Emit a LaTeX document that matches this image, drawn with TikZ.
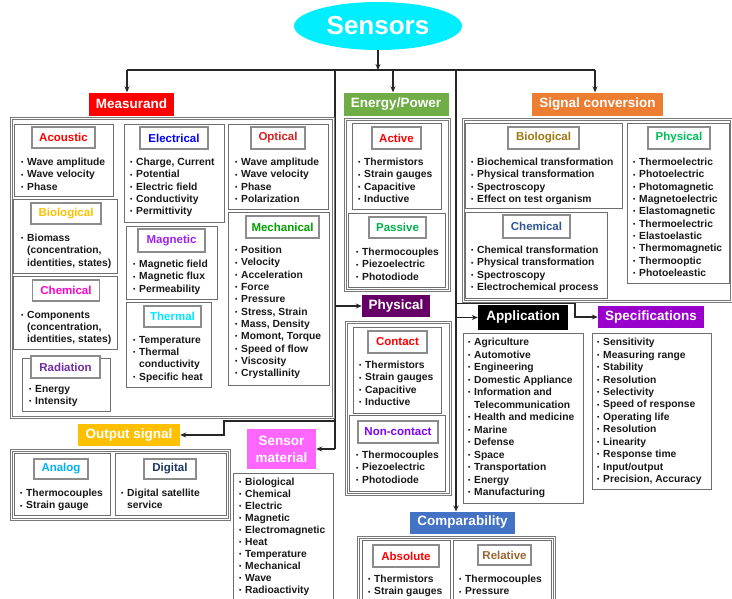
\documentclass[tikz,border=0pt]{standalone}
\usepackage{fontspec}
\setmainfont{Liberation Sans}
\usepackage{graphicx}
\usetikzlibrary{shapes.geometric,arrows.meta}
\newcommand{\bl}{\makebox[6pt][l]{\raisebox{0.9pt}{\scalebox{0.65}{•}}}}
\newcommand{\ind}{\hspace*{6pt}}
\definecolor{sensorcyan}{RGB}{0,238,255}
\definecolor{measred}{RGB}{255,0,0}
\definecolor{energygreen}{RGB}{112,173,71}
\definecolor{signalorange}{RGB}{237,125,49}
\definecolor{physpurple}{RGB}{102,0,102}
\definecolor{specpurple}{RGB}{153,0,204}
\definecolor{outyellow}{RGB}{255,192,0}
\definecolor{matpink}{RGB}{255,102,255}
\definecolor{compblue}{RGB}{68,114,196}
\definecolor{boxgray}{RGB}{110,110,110}
\definecolor{framegray}{RGB}{120,120,120}
\definecolor{lblgray}{RGB}{140,140,140}
\definecolor{cAcoustic}{RGB}{255,0,0}
\definecolor{cBio}{RGB}{255,192,0}
\definecolor{cChem}{RGB}{255,0,204}
\definecolor{cRad}{RGB}{112,48,160}
\definecolor{cElec}{RGB}{0,0,255}
\definecolor{cMag}{RGB}{160,32,240}
\definecolor{cTherm}{RGB}{0,230,255}
\definecolor{cOpt}{RGB}{220,30,30}
\definecolor{cMech}{RGB}{0,160,0}
\definecolor{cPass}{RGB}{0,176,80}
\definecolor{cSBio}{RGB}{160,120,20}
\definecolor{cSChem}{RGB}{47,85,151}
\definecolor{cSPhys}{RGB}{0,190,90}
\definecolor{cNon}{RGB}{127,0,255}
\definecolor{cAna}{RGB}{0,176,240}
\definecolor{cDig}{RGB}{31,56,100}
\definecolor{cRel}{RGB}{153,102,51}
\definecolor{txt}{RGB}{25,25,25}
\begin{document}
\begin{tikzpicture}[x=1pt,y=-1pt,
  box/.style={draw=boxgray, line width=0.9pt, inner sep=0pt, anchor=north west},
  frame/.style={draw=framegray, double=white, double distance=1.2pt, line width=0.7pt, inner sep=0pt, anchor=north west},
  lbl/.style={draw=lblgray, line width=1.1pt, fill=white, inner sep=0pt, font=\fontsize{11.5}{12}\selectfont\bfseries},
  hdr/.style={inner sep=0pt, text=white, font=\fontsize{13.5}{15}\selectfont\bfseries},
  lst/.style={anchor=north west, inner sep=0pt, align=left, text=txt, font=\fontsize{10.3}{12.3}\selectfont\bfseries},
  conn/.style={draw=black!85, line width=1.3pt},
  arr/.style={conn, -{Stealth[length=6pt,width=5pt]}}
]
\useasboundingbox (0,0) rectangle (732,598);
\clip (0,0) rectangle (732,598);
\fill[white] (0,0) rectangle (732,598);

% ---------- title ----------
\node[ellipse, fill=sensorcyan, minimum width=168pt, minimum height=48pt, inner sep=0pt,
  text=white, font=\fontsize{26}{28}\selectfont\bfseries] (sensors) at (378,26) {Sensors};

% ---------- headers ----------
\node[hdr, fill=measred, minimum width=85pt, minimum height=23pt] (meas) at (131.5,104) {Measurand};
\node[hdr, fill=energygreen, minimum width=105pt, minimum height=23pt] (energy) at (396,104) {Energy/Power};
\node[hdr, fill=signalorange, minimum width=131pt, minimum height=23pt] (signal) at (597.5,104) {Signal conversion};
\node[hdr, fill=physpurple, minimum width=68pt, minimum height=22pt] (phys) at (396,306) {Physical};
\node[hdr, fill=black, minimum width=90pt, minimum height=25pt] (app) at (523,317.5) {Application};
\node[hdr, fill=specpurple, minimum width=106pt, minimum height=22pt] (spec) at (651,317) {Specifications};
\node[hdr, fill=outyellow, minimum width=102pt, minimum height=22pt] (out) at (129,435) {Output signal};
\node[hdr, fill=matpink, minimum width=69pt, minimum height=40pt, align=center, font=\fontsize{13.5}{17}\selectfont\bfseries] (mat) at (281.5,449) {Sensor\\material};
\node[hdr, fill=compblue, minimum width=105pt, minimum height=22pt] (comp) at (462.5,522.5) {Comparability};

% ---------- connectors ----------
\coordinate (jc) at (378,70);
\coordinate (jl) at (127,70);
\coordinate (je) at (393,70);
\coordinate (jr) at (595,70);
\coordinate (ta) at (335,70);
\coordinate (tb) at (456,70);
\coordinate (taphys) at (335,306);
\coordinate (taout) at (335,421);
\coordinate (bendout) at (224,421);
\coordinate (bendout2) at (224,435);
\coordinate (tamat) at (335,449);
\coordinate (tbapp) at (456,317.5);
\coordinate (tbspec) at (456,303.5);
\coordinate (bendspec) at (575,303.5);
\coordinate (bendspec2) at (575,317);
\coordinate (tbcomp) at (456,511.5);

\draw[arr] (sensors.south) -- (jc);
\draw[conn] (jl) -- (jr);
\draw[arr] (jl) -- (jl |- meas.north);
\draw[arr] (je) -- (je |- energy.north);
\draw[arr] (jr) -- (jr |- signal.north);
\draw[conn] (ta) -- (tamat);
\draw[arr] (taphys) -- (phys.west);
\draw[arr] (taout) -- (bendout) -- (bendout2) -- (out.east);
\draw[arr] (tamat) -- (mat.east);
\draw[arr] (tb) -- (tbcomp);
\draw[arr] (tbapp) -- (app.west);
\draw[arr] (tbspec) -- (bendspec) -- (bendspec2) -- (spec.west);

% ---------- Measurand ----------
\node[frame, minimum width=322pt, minimum height=299pt] (measframe) at (11,118) {};
\node[box, minimum width=99pt, minimum height=72pt] (acbox) at (14,124) {};
\node[box, minimum width=104pt, minimum height=74pt] (biobox) at (13,199) {};
\node[box, minimum width=104pt, minimum height=73pt] (chembox) at (13,276) {};
\node[box, minimum width=88pt, minimum height=53pt] (radbox) at (22,358) {};
\node[box, minimum width=100pt, minimum height=98pt] (elecbox) at (124,124) {};
\node[box, minimum width=91pt, minimum height=73pt] (magbox) at (126,226) {};
\node[box, minimum width=85pt, minimum height=85pt] (thermbox) at (126,302) {};
\node[box, minimum width=100pt, minimum height=85pt] (optbox) at (228,124) {};
\node[box, minimum width=101pt, minimum height=173pt] (mechbox) at (228,212) {};

\node[lbl, text=cAcoustic, minimum width=63pt, minimum height=21pt] (aclbl) at (63.5,137.5) {Acoustic};
\node[lbl, text=cBio, minimum width=70pt, minimum height=21pt] (biolbl) at (66,213.5) {Biological};
\node[lbl, text=cChem, minimum width=67pt, minimum height=21pt] (chemlbl) at (66,290.5) {Chemical};
\node[lbl, text=cRad, minimum width=69pt, minimum height=22pt] (radlbl) at (65.5,367) {Radiation};
\node[lbl, text=cElec, minimum width=68pt, minimum height=22pt] (eleclbl) at (174,138) {Electrical};
\node[lbl, text=cMag, minimum width=67pt, minimum height=23pt] (maglbl) at (171.5,240.5) {Magnetic};
\node[lbl, text=cTherm, minimum width=57pt, minimum height=21pt] (thermlbl) at (172.5,316.5) {Thermal};
\node[lbl, text=cOpt, minimum width=54pt, minimum height=22pt] (optlbl) at (278,138) {Optical};
\node[lbl, text=cMech, minimum width=73pt, minimum height=22pt] (mechlbl) at (282.5,227) {Mechanical};

\node[lst] (aclst) at (21,158) {\bl Wave amplitude\\\bl Wave velocity\\\bl Phase};
\node[lst] (biolst) at (21,234) {\bl Biomass\\\ind(concentration,\\\ind identities, states)};
\node[lst] (chemlst) at (21,311) {\bl Components\\\ind(concentration,\\\ind identities, states)};
\node[lst] (radlst) at (29,385) {\bl Energy\\\bl Intensity};
\node[lst] (eleclst) at (130,158) {\bl Charge, Current\\\bl Potential\\\bl Electric field\\\bl Conductivity\\\bl Permittivity};
\node[lst] (maglst) at (133,260) {\bl Magnetic field\\\bl Magnetic flux\\\bl Permeability};
\node[lst] (thermlst) at (133,336) {\bl Temperature\\\bl Thermal\\\ind conductivity\\\bl Specific heat};
\node[lst] (optlst) at (235,158) {\bl Wave amplitude\\\bl Wave velocity\\\bl Phase\\\bl Polarization};
\node[lst] (mechlst) at (235,246) {\bl Position\\\bl Velocity\\\bl Acceleration\\\bl Force\\\bl Pressure\\\bl Stress, Strain\\\bl Mass, Density\\\bl Momont, Torque\\\bl Speed of flow\\\bl Viscosity\\\bl Crystallinity};

% ---------- Energy/Power ----------
\node[frame, minimum width=104pt, minimum height=171pt] (enframe) at (345,119) {};
\node[box, minimum width=89pt, minimum height=86pt] (actbox) at (352,123) {};
\node[box, minimum width=97pt, minimum height=74pt] (passbox) at (348,213) {};
\node[lbl, text=cAcoustic, minimum width=49pt, minimum height=22pt] (actlbl) at (396.5,138) {Active};
\node[lbl, text=cPass, minimum width=57pt, minimum height=21pt] (passlbl) at (397.5,227.5) {Passive};
\node[lst] (actlst) at (358,158) {\bl Thermistors\\\bl Strain gauges\\\bl Capacitive\\\bl Inductive};
\node[lst] (passlst) at (356,248) {\bl Thermocouples\\\bl Piezoelectric\\\bl Photodiode};

% ---------- Signal conversion ----------
\node[frame, minimum width=268pt, minimum height=182pt] (sigframe) at (463,119) {};
\node[box, minimum width=157pt, minimum height=85pt] (sbiobox) at (465,123) {};
\node[box, minimum width=142pt, minimum height=86pt] (schembox) at (465,212) {};
\node[box, minimum width=102pt, minimum height=160pt] (sphysbox) at (627,123) {};
\node[lbl, text=cSBio, minimum width=71pt, minimum height=22pt] (sbiolbl) at (543.5,138) {Biological};
\node[lbl, text=cSChem, minimum width=67pt, minimum height=23pt] (schemlbl) at (536.5,226.5) {Chemical};
\node[lbl, text=cSPhys, minimum width=62pt, minimum height=22pt] (sphyslbl) at (679,138) {Physical};
\node[lst] (sbiolst) at (471,158) {\bl Biochemical transformation\\\bl Physical transformation\\\bl Spectroscopy\\\bl Effect on test organism};
\node[lst] (schemlst) at (471,246) {\bl Chemical transformation\\\bl Physical transformation\\\bl Spectroscopy\\\bl Electrochemical process};
\node[lst] (sphyslst) at (633,158) {\bl Thermoelectric\\\bl Photoelectric\\\bl Photomagnetic\\\bl Magnetoelectric\\\bl Elastomagnetic\\\bl Thermoelectric\\\bl Elastoelastic\\\bl Thermomagnetic\\\bl Thermooptic\\\bl Photoeleastic};

% ---------- Physical ----------
\node[frame, minimum width=104pt, minimum height=172pt] (phframe) at (346,322) {};
\node[box, minimum width=88pt, minimum height=86pt] (contbox) at (353,327) {};
\node[box, minimum width=96pt, minimum height=76pt] (noncbox) at (349,415) {};
\node[lbl, text=cAcoustic, minimum width=59pt, minimum height=22pt] (contlbl) at (397.5,342) {Contact};
\node[lbl, text=cNon, minimum width=80pt, minimum height=22pt] (nonclbl) at (398,432) {Non-contact};
\node[lst] (contlst) at (359,361) {\bl Thermistors\\\bl Strain gauges\\\bl Capacitive\\\bl Inductive};
\node[lst] (nonclst) at (356,451) {\bl Thermocouples\\\bl Piezoelectric\\\bl Photodiode};

% ---------- Application ----------
\node[box, minimum width=120pt, minimum height=170pt] (appbox) at (463,333) {};
\node[lst, font=\fontsize{10.3}{12.5}\selectfont\bfseries] (applst) at (468,338) {\bl Agriculture\\\bl Automotive\\\bl Engineering\\\bl Domestic Appliance\\\bl Information and\\\ind Telecommunication\\\bl Health and medicine\\\bl Marine\\\bl Defense\\\bl Space\\\bl Transportation\\\bl Energy\\\bl Manufacturing};

% ---------- Specifications ----------
\node[box, minimum width=119pt, minimum height=156pt] (specbox) at (592,333) {};
\node[lst, font=\fontsize{10.3}{12.45}\selectfont\bfseries] (speclst) at (597,338) {\bl Sensitivity\\\bl Measuring range\\\bl Stability\\\bl Resolution\\\bl Selectivity\\\bl Speed of response\\\bl Operating life\\\bl Resolution\\\bl Linearity\\\bl Response time\\\bl Input/output\\\bl Precision, Accuracy};

% ---------- Output signal ----------
\node[frame, minimum width=218pt, minimum height=69pt] (outframe) at (11,450) {};
\node[box, minimum width=96pt, minimum height=62pt] (anabox) at (14,453) {};
\node[box, minimum width=111pt, minimum height=62pt] (digbox) at (115,453) {};
\node[lbl, text=cAna, minimum width=54pt, minimum height=20pt] (analbl) at (61,469) {Analog};
\node[lbl, text=cDig, minimum width=52pt, minimum height=20pt] (diglbl) at (170,469) {Digital};
\node[lst] (analst) at (20,489) {\bl Thermocouples\\\bl Strain gauge};
\node[lst] (diglst) at (121,489) {\bl Digital satellite\\\ind service};

% ---------- Sensor material ----------
\node[box, minimum width=100pt, minimum height=135pt] (matbox) at (233,473) {};
\node[lst, font=\fontsize{10.3}{12.05}\selectfont\bfseries] (matlst) at (239,477.5) {\bl Biological\\\bl Chemical\\\bl Electric\\\bl Magnetic\\\bl Electromagnetic\\\bl Heat\\\bl Temperature\\\bl Mechanical\\\bl Wave\\\bl Radioactivity};

% ---------- Comparability ----------
\node[frame, minimum width=196pt, minimum height=70pt] (compframe) at (358,537) {};
\node[box, minimum width=88pt, minimum height=65pt] (absbox) at (362,540) {};
\node[box, minimum width=98pt, minimum height=65pt] (relbox) at (453,540) {};
\node[lbl, text=cAcoustic, minimum width=66pt, minimum height=22pt] (abslbl) at (406,556) {Absolute};
\node[lbl, text=cRel, minimum width=53pt, minimum height=20pt] (rellbl) at (504.5,555) {Relative};
\node[lst] (abslst) at (368,575) {\bl Thermistors\\\bl Strain gauges};
\node[lst] (rellst) at (459,575) {\bl Thermocouples\\\bl Pressure};
\end{tikzpicture}
\end{document}
